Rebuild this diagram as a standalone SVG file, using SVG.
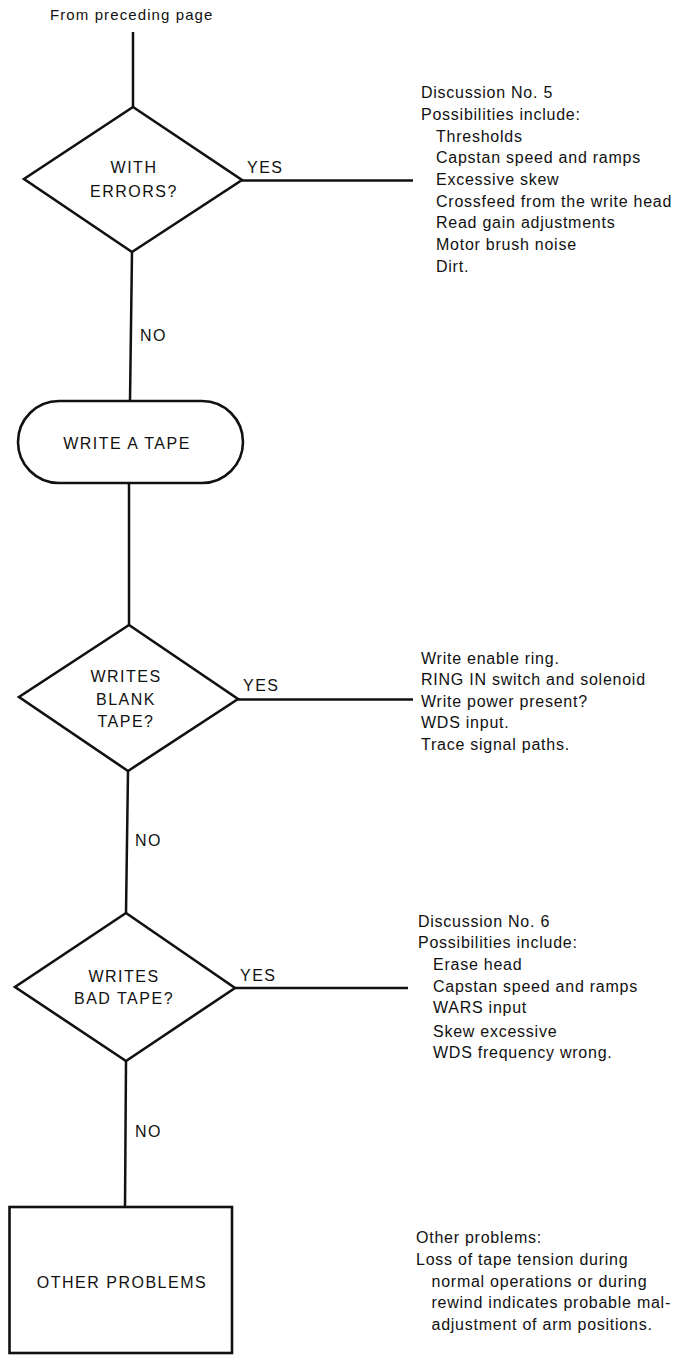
<svg xmlns="http://www.w3.org/2000/svg" width="678" height="1355" viewBox="0 0 678 1355">
<style>
.shape{fill:#fff;stroke:#111;stroke-width:2.6}
.conn{fill:none;stroke:#111;stroke-width:2.5}
.lbl{font-family:"Liberation Sans",Arial,sans-serif;font-size:16px;letter-spacing:1.5px;fill:#111}
.mid{text-anchor:middle}
.note{font-family:"Liberation Sans",Arial,sans-serif;font-size:16px;letter-spacing:0.75px;fill:#111}
</style>
<rect width="678" height="1355" fill="#fff"/>
<text class="lbl" x="50" y="20" style="font-size:15px;letter-spacing:1.1px">From preceding page</text>
<g id="connectors">
<path class="conn" d="M133 32 V107"/>
<path class="conn" d="M132 252 L130 401"/>
<path class="conn" d="M129 483 V625"/>
<path class="conn" d="M128 771 L126 913"/>
<path class="conn" d="M126 1061 L125 1207"/>
<path class="conn" d="M242 180.5 H413"/>
<path class="conn" d="M238 699.5 H413"/>
<path class="conn" d="M235 988 H408"/>
<text class="lbl" x="247" y="173">YES</text>
<text class="lbl" x="140" y="341">NO</text>
<text class="lbl" x="243" y="691">YES</text>
<text class="lbl" x="135" y="846">NO</text>
<text class="lbl" x="240" y="981">YES</text>
<text class="lbl" x="135" y="1137">NO</text>
</g>
<g id="d1">
<polygon class="shape" points="133,107 242,180 132,252 24,179"/>
<text class="lbl mid" x="134" y="173">WITH</text>
<text class="lbl mid" x="134" y="197">ERRORS?</text>
</g>
<g id="n-write">
<rect class="shape" x="18" y="401" width="225" height="82" rx="41"/>
<text class="lbl mid" x="127" y="449">WRITE A TAPE</text>
</g>
<g id="d2">
<polygon class="shape" points="129,625 238,699 128,771 19,697"/>
<text class="lbl mid" x="126" y="682">WRITES</text>
<text class="lbl mid" x="126" y="704.5">BLANK</text>
<text class="lbl mid" x="126" y="727">TAPE?</text>
</g>
<g id="d3">
<polygon class="shape" points="126,913 235,988 126,1061 15,987"/>
<text class="lbl mid" x="124" y="982">WRITES</text>
<text class="lbl mid" x="124" y="1004">BAD TAPE?</text>
</g>
<g id="n-other">
<rect class="shape" x="9.5" y="1207" width="222.5" height="146"/>
<text class="lbl mid" x="122" y="1288">OTHER PROBLEMS</text>
</g>
<g id="note1">
<text class="note" x="421" y="98">Discussion No. 5</text>
<text class="note" x="421" y="120">Possibilities include:</text>
<text class="note" x="436" y="141.5">Thresholds</text>
<text class="note" x="436" y="163">Capstan speed and ramps</text>
<text class="note" x="436" y="185">Excessive skew</text>
<text class="note" x="436" y="206.5">Crossfeed from the write head</text>
<text class="note" x="436" y="228">Read gain adjustments</text>
<text class="note" x="436" y="250">Motor brush noise</text>
<text class="note" x="436" y="271.5">Dirt.</text>
</g>
<g id="note2">
<text class="note" x="421" y="663.5">Write enable ring.</text>
<text class="note" x="421" y="685">RING IN switch and solenoid</text>
<text class="note" x="421" y="706.5">Write power present?</text>
<text class="note" x="421" y="728">WDS input.</text>
<text class="note" x="421" y="750">Trace signal paths.</text>
</g>
<g id="note3">
<text class="note" x="418" y="926.5">Discussion No. 6</text>
<text class="note" x="418" y="948">Possibilities include:</text>
<text class="note" x="433" y="970">Erase head</text>
<text class="note" x="433" y="991.5">Capstan speed and ramps</text>
<text class="note" x="433" y="1013">WARS input</text>
<text class="note" x="433" y="1036.5">Skew excessive</text>
<text class="note" x="433" y="1058">WDS frequency wrong.</text>
</g>
<g id="note4">
<text class="note" x="416" y="1243">Other problems:</text>
<text class="note" x="416" y="1265">Loss of tape tension during</text>
<text class="note" x="431.5" y="1286.5">normal operations or during</text>
<text class="note" x="431.5" y="1308">rewind indicates probable mal-</text>
<text class="note" x="431.5" y="1330">adjustment of arm positions.</text>
</g>
</svg>
